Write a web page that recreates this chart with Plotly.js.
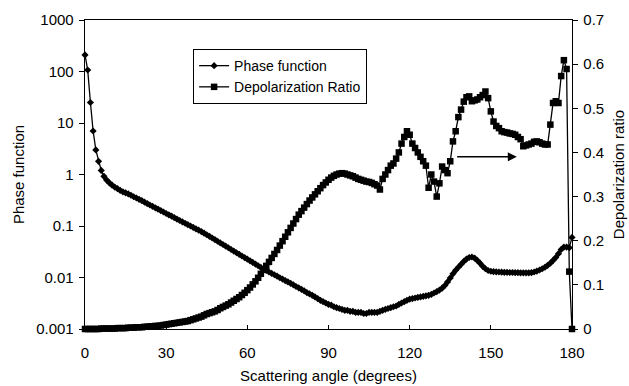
<!DOCTYPE html>
<html>
<head>
<meta charset="utf-8">
<script src="https://cdn.plot.ly/plotly-3.0.1.min.js"></script>
<style>html,body{margin:0;padding:0;background:#fff;}#chart{width:629px;height:386px;}</style>
</head>
<body>
<div id="chart"></div>
<script>
// Scattering angle (degrees), 0..180 in 1-degree steps
const angles = [];
for (let a = 0; a <= 180; a++) angles.push(a);

// Phase function (left, log axis)
const phaseFunction = [
  210, 107, 25, 7, 3, 1.8, 1.2, 0.92, 0.78, 0.69,
  0.62, 0.57, 0.53, 0.49, 0.46, 0.44, 0.42, 0.395, 0.37, 0.35,
  0.33, 0.31, 0.29, 0.272, 0.256, 0.24, 0.225, 0.212, 0.199, 0.187,
  0.175, 0.165, 0.155, 0.145, 0.136, 0.128, 0.12, 0.113, 0.106, 0.1,
  0.094, 0.088, 0.083, 0.078, 0.0725, 0.0675, 0.063, 0.0585, 0.0545, 0.0505,
  0.047, 0.0437, 0.0406, 0.0378, 0.035, 0.0326, 0.0303, 0.0282, 0.0262, 0.0244,
  0.0227, 0.0211, 0.0196, 0.0182, 0.0169, 0.0157, 0.0146, 0.0137, 0.0128, 0.012,
  0.0113, 0.0106, 0.0099, 0.0093, 0.0087, 0.0082, 0.0077, 0.0072, 0.0067, 0.0063,
  0.0059, 0.0055, 0.0051, 0.0048, 0.0045, 0.0042, 0.0039, 0.0036, 0.0034, 0.0032,
  0.003, 0.0029, 0.0027, 0.0026, 0.0025, 0.0024, 0.0023, 0.0023, 0.0022, 0.0022,
  0.0021, 0.0021, 0.0021, 0.002, 0.002, 0.0021, 0.0021, 0.0021, 0.0021, 0.0022,
  0.0023, 0.0024, 0.0025, 0.0026, 0.0027, 0.0028, 0.003, 0.0032, 0.0034, 0.0036,
  0.0038, 0.0039, 0.004, 0.0041, 0.0042, 0.0043, 0.0044, 0.0045, 0.0047, 0.005,
  0.0053, 0.0057, 0.0062, 0.007, 0.0082, 0.0098, 0.0118, 0.0138, 0.0158, 0.018,
  0.0205, 0.0228, 0.0245, 0.025, 0.0238, 0.0215, 0.019, 0.0165, 0.0148, 0.0137,
  0.0132, 0.013, 0.0129, 0.0128, 0.0127, 0.0126, 0.0126, 0.0125, 0.0125, 0.0124,
  0.0124, 0.0123, 0.0123, 0.0123, 0.0123, 0.0124, 0.0128, 0.0133, 0.014, 0.0148,
  0.0158, 0.0172, 0.019, 0.0215, 0.0245, 0.029, 0.035, 0.039, 0.039, 0.038,
  0.06
];

// Depolarization ratio (right, linear axis)
const depolRatio = [
  0.000, 0.000, 0.000, 0.000, 0.000, 0.000, 0.001, 0.001, 0.001, 0.001,
  0.001, 0.001, 0.002, 0.002, 0.002, 0.002, 0.003, 0.003, 0.003, 0.004,
  0.004, 0.004, 0.005, 0.005, 0.006, 0.006, 0.007, 0.007, 0.008, 0.009,
  0.010, 0.011, 0.012, 0.013, 0.014, 0.015, 0.016, 0.017, 0.018, 0.020,
  0.022, 0.024, 0.026, 0.028, 0.031, 0.034, 0.036, 0.038, 0.040, 0.043,
  0.047, 0.050, 0.053, 0.056, 0.060, 0.064, 0.068, 0.072, 0.077, 0.082,
  0.088, 0.094, 0.101, 0.108, 0.116, 0.125, 0.134, 0.143, 0.152, 0.161,
  0.170, 0.179, 0.189, 0.199, 0.209, 0.219, 0.229, 0.239, 0.249, 0.259,
  0.267, 0.275, 0.283, 0.291, 0.298, 0.305, 0.312, 0.319, 0.326, 0.332,
  0.338, 0.343, 0.347, 0.350, 0.352, 0.353, 0.352, 0.350, 0.348, 0.346,
  0.343, 0.340, 0.338, 0.336, 0.334, 0.333, 0.331, 0.328, 0.325, 0.316,
  0.340, 0.350, 0.360, 0.370, 0.375, 0.386, 0.400, 0.420, 0.435, 0.448,
  0.440, 0.420, 0.410, 0.400, 0.390, 0.380, 0.370, 0.320, 0.350, 0.334,
  0.300, 0.330, 0.368, 0.360, 0.353, 0.380, 0.425, 0.448, 0.480, 0.497,
  0.515, 0.525, 0.527, 0.516, 0.518, 0.520, 0.525, 0.530, 0.538, 0.523,
  0.493, 0.470, 0.460, 0.455, 0.448, 0.446, 0.445, 0.443, 0.442, 0.440,
  0.435, 0.430, 0.414, 0.416, 0.418, 0.420, 0.424, 0.425, 0.423, 0.420,
  0.418, 0.418, 0.463, 0.512, 0.516, 0.512, 0.573, 0.609, 0.589, 0.130,
  0.000
];

const xTicks = [0, 30, 60, 90, 120, 150, 180];
const yTicks = [0.001, 0.01, 0.1, 1, 10, 100, 1000];
const yTickText = ["0.001", "0.01", "0.1", "1", "10", "100", "1000"];
const y2Ticks = [0, 0.1, 0.2, 0.3, 0.4, 0.5, 0.6, 0.7];
const y2TickText = ["0", "0.1", "0.2", "0.3", "0.4", "0.5", "0.6", "0.7"];
const seriesNames = ["Phase function", "Depolarization Ratio"];
const arrowFrom = [137, 0.39];
const arrowTo = [159.6, 0.39];

const font = "Liberation Sans, Arial, sans-serif";

const traces = [
  {
    x: angles, y: phaseFunction, name: seriesNames[0], type: "scatter", mode: "lines+markers",
    line: {color: "#000", width: 1.3},
    marker: {symbol: "diamond", size: 5.5, color: "#000"},
    cliponaxis: false
  },
  {
    x: angles, y: depolRatio, name: seriesNames[1], type: "scatter", mode: "lines+markers",
    yaxis: "y2",
    line: {color: "#000", width: 1.3},
    marker: {symbol: "square", size: 6.5, color: "#000"},
    cliponaxis: false
  }
];

const layout = {
  width: 629, height: 386,
  margin: {l: 85, r: 57, t: 20, b: 57},
  paper_bgcolor: "#fff", plot_bgcolor: "#fff",
  font: {family: font, color: "#000", size: 15},
  showlegend: true,
  legend: {
    x: 0.222, y: 0.906, xanchor: "left", yanchor: "top",
    bordercolor: "#000", borderwidth: 1, bgcolor: "#fff",
    font: {family: font, size: 14, color: "#000"},
    tracegroupgap: 0
  },
  xaxis: {
    range: [0, 180], tickvals: xTicks, ticktext: xTicks.map(String),
    ticks: "inside", ticklen: 4, tickcolor: "#000",
    ticklabelstandoff: 10,
    showline: true, linecolor: "#000", linewidth: 1.3, mirror: true,
    showgrid: false, zeroline: false,
    tickfont: {family: font, size: 15},
    title: {text: "Scattering angle (degrees)", font: {family: font, size: 15}, standoff: 10}
  },
  yaxis: {
    type: "log", range: [-3, 3], tickvals: yTicks, ticktext: yTickText,
    ticks: "outside", ticklen: 5, tickcolor: "#000",
    ticklabelstandoff: 2,
    showline: true, linecolor: "#000", linewidth: 1.3,
    showgrid: false, zeroline: false,
    tickfont: {family: font, size: 15},
    title: {text: "Phase function", font: {family: font, size: 15}, standoff: 8}
  },
  yaxis2: {
    overlaying: "y", side: "right",
    range: [0, 0.7], tickvals: y2Ticks, ticktext: y2TickText,
    ticks: "outside", ticklen: 5, tickcolor: "#000",
    ticklabelstandoff: 2,
    showline: true, linecolor: "#000", linewidth: 1.3,
    showgrid: false, zeroline: false,
    tickfont: {family: font, size: 15},
    title: {text: "Depolarization ratio", font: {family: font, size: 15}, standoff: 10}
  },
  annotations: [{
    x: arrowTo[0], y: arrowTo[1], xref: "x", yref: "y2",
    ax: arrowFrom[0], ay: arrowFrom[1], axref: "x", ayref: "y2",
    text: "", showarrow: true, arrowhead: 2, arrowsize: 1.2, arrowwidth: 1.5, arrowcolor: "#000"
  }]
};

Plotly.newPlot("chart", traces, layout, {staticPlot: true, displayModeBar: false});
</script>
</body>
</html>
